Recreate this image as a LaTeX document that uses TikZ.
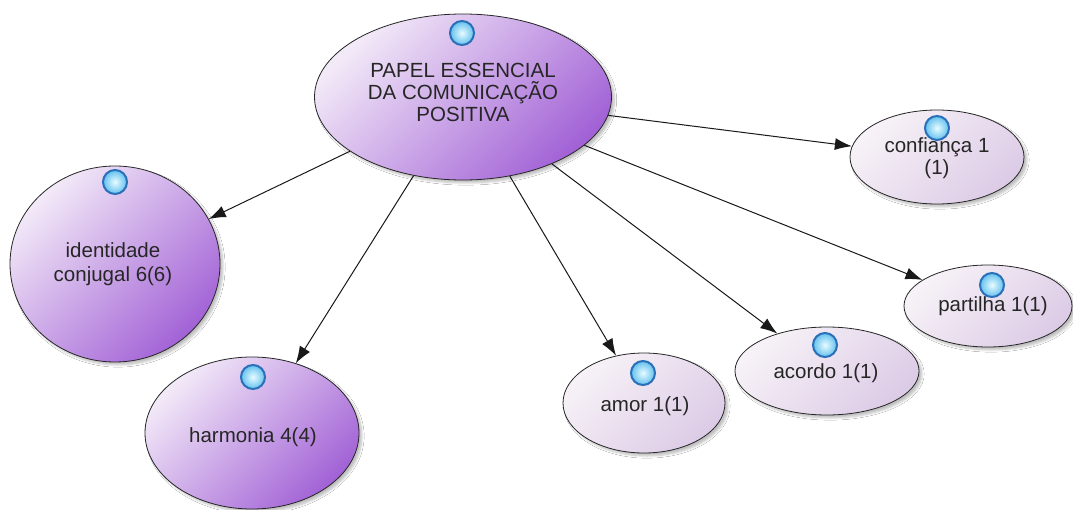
\documentclass[tikz,border=0pt]{standalone}
\usepackage{fontspec}
\setmainfont{Liberation Sans}
\usetikzlibrary{arrows.meta,shapes.geometric,shadows.blur}
\definecolor{bigLight}{HTML}{F3EAF8}
\definecolor{bigDark}{HTML}{A262D6}
\definecolor{smLight}{HTML}{F7F2F7}
\definecolor{smDark}{HTML}{DCCBE6}
\definecolor{ballRim}{HTML}{2A6FB8}
\definecolor{ballIn}{HTML}{E8FCFF}
\definecolor{ballMid}{HTML}{62C0EE}
\begin{document}
\begin{tikzpicture}[x=1pt,y=-1pt,
  bignode/.style={ellipse,draw=black!85,line width=0.8pt,shading=axis,
    top color=bigLight,bottom color=bigDark,shading angle=45,inner sep=0pt,
    blur shadow={shadow xshift=3pt,shadow yshift=-3pt,shadow blur steps=6,shadow opacity=25}},
  smnode/.style={ellipse,draw=black!85,line width=0.8pt,shading=axis,
    top color=smLight,bottom color=smDark,shading angle=45,inner sep=0pt,
    blur shadow={shadow xshift=3pt,shadow yshift=-3pt,shadow blur steps=6,shadow opacity=25}},
  ball/.style={circle,minimum size=24pt,inner sep=0pt,draw=ballRim,line width=2pt,
    inner color=ballIn,outer color=ballMid},
  lbl/.style={align=center,text=black!85,font=\fontsize{20.5}{22}\selectfont},
  conn/.style={draw=black!90,line width=1pt,-{Latex[length=17pt,width=12pt]}}
]
\useasboundingbox (0,0) rectangle (1073,510);
\fill[white] (0,0) rectangle (1073,510);

% shapes
\node[bignode,minimum width=297pt,minimum height=166pt] (c) at (463,97) {};
\node[bignode,minimum width=210pt,minimum height=196pt] (id) at (115,264) {};
\node[bignode,minimum width=214pt,minimum height=152pt] (ha) at (252,433) {};
\node[smnode,minimum width=162pt,minimum height=100pt] (am) at (644,403) {};
\node[smnode,minimum width=184pt,minimum height=88pt] (ac) at (827,371) {};
\node[smnode,minimum width=168pt,minimum height=82pt] (pa) at (988,306) {};
\node[smnode,minimum width=174pt,minimum height=94pt] (co) at (937,157) {};

% connectors
\draw[conn] (c) -- (id);
\draw[conn] (c) -- (ha);
\draw[conn] (c) -- (am);
\draw[conn] (c) -- (ac);
\draw[conn] (c) -- (pa);
\draw[conn] (c) -- (co);

% balls
\node[ball] (bc) at (462,33) {};
\node[ball] (bid) at (115,182) {};
\node[ball] (bha) at (253,377) {};
\node[ball] (bam) at (643,373) {};
\node[ball] (bac) at (825,345) {};
\node[ball] (bco) at (937,128) {};
\node[ball] (bpa) at (992,285) {};

% labels
\node[lbl] (tc) at (463,92) {PAPEL ESSENCIAL\\DA COMUNICAÇÃO\\POSITIVA};
\node[lbl,font=\fontsize{20.5}{24}\selectfont] (tid) at (113,264) {identidade\\conjugal 6(6)};
\node[lbl] (tha) at (253,437) {harmonia 4(4)};
\node[lbl] (tam) at (645,406) {amor 1(1)};
\node[lbl] (tac) at (826,373) {acordo 1(1)};
\node[lbl] (tpa) at (993,306) {partilha 1(1)};
\node[lbl] (tco) at (937,158) {confiança 1\\(1)};
\end{tikzpicture}
\end{document}
